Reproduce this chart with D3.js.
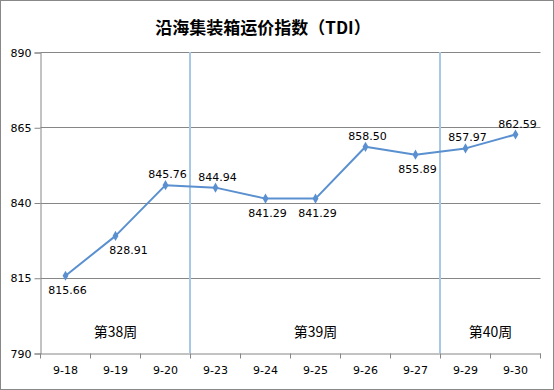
<!DOCTYPE html>
<html>
<head>
<meta charset="utf-8">
<script src="https://cdn.jsdelivr.net/npm/d3@7"></script>
<style>
  body { margin: 0; background: #fff; }
  text { font-family: "DejaVu Sans", sans-serif; }
</style>
</head>
<body>
<div id="chart"></div>
<script>
var width = 554,
    height = 390,
    margin = {top: 52, right: 14, bottom: 37, left: 40};

// data
var dates = ["9-18", "9-19", "9-20", "9-23", "9-24", "9-25", "9-26", "9-27", "9-29", "9-30"];
var tdi = [815.66, 828.91, 845.76, 844.94, 841.29, 841.29, 858.50, 855.89, 857.97, 862.59];
var yTicks = [790, 815, 840, 865, 890];
var weeks = ["第38周", "第39周", "第40周"];
var weekStart = ["9-18", "9-23", "9-29"];
var weekEnd = ["9-20", "9-27", "9-30"];
// label placement for each point: "up", "down", "downright"
var labelSide = ["down", "downright", "up", "up", "down", "down", "up", "down", "up", "up"];

var svg = d3.select("#chart").append("svg")
    .attr("width", width)
    .attr("height", height);

svg.append("rect")
    .attr("x", 0.5).attr("y", 0.5)
    .attr("width", width - 1).attr("height", height - 1)
    .attr("fill", "#fff")
    .attr("stroke", "#888");

svg.append("text")
    .attr("x", 263)
    .attr("y", 34)
    .attr("text-anchor", "middle")
    .style("font-family", "'Noto Sans CJK SC', sans-serif")
    .style("font-size", "17px")
    .style("font-weight", "bold")
    .text("沿海集装箱运价指数（TDI）");

var x = d3.scaleBand()
    .domain(dates)
    .range([margin.left + 0.5, width - margin.right + 0.5]);

var y = d3.scaleLinear()
    .domain([790, 890])
    .range([height - margin.bottom, margin.top]);

var g = svg.append("g");

// gridlines
g.selectAll(".grid")
    .data(yTicks.slice(1))
  .enter().append("line")
    .attr("x1", x.range()[0])
    .attr("x2", x.range()[1])
    .attr("y1", function(d) { return Math.round(y(d)) + 0.5; })
    .attr("y2", function(d) { return Math.round(y(d)) + 0.5; })
    .attr("stroke", "#868686");

// y axis
var yAxis = g.append("g")
    .attr("transform", "translate(" + x.range()[0] + ",0.5)")
    .call(d3.axisLeft(y).tickValues(yTicks).tickSize(6).tickPadding(3));

// x axis
var xAxis = g.append("g")
    .attr("transform", "translate(0," + (y(790) + 0.5) + ")")
    .call(d3.axisBottom(x).tickSize(0).tickPadding(13));

xAxis.selectAll(".tick").append("line")
    .attr("x1", -x.bandwidth() / 2).attr("x2", -x.bandwidth() / 2)
    .attr("y1", 0).attr("y2", 5)
    .attr("stroke", "#868686");
xAxis.append("line")
    .attr("x1", x.range()[1]).attr("x2", x.range()[1])
    .attr("y1", 0).attr("y2", 5)
    .attr("stroke", "#868686");

[yAxis, xAxis].forEach(function(a) {
  a.select(".domain").attr("stroke", "#868686");
  a.selectAll(".tick line").attr("stroke", "#868686");
  a.selectAll("text")
      .attr("fill", "#000")
      .style("font-family", "'DejaVu Sans', sans-serif")
      .style("font-size", "11px");
});

// week separators
g.selectAll(".sep")
    .data(weekStart.slice(1))
  .enter().append("line")
    .attr("x1", function(d) { return x(d) - 0.5; })
    .attr("x2", function(d) { return x(d) - 0.5; })
    .attr("y1", y(890))
    .attr("y2", y(790))
    .attr("stroke", "#a9c8e6")
    .attr("stroke-width", 2);

// week labels
g.selectAll(".week")
    .data(weeks)
  .enter().append("text")
    .attr("x", function(d, i) { return (x(weekStart[i]) + x(weekEnd[i]) + x.bandwidth()) / 2; })
    .attr("y", y(790) - 16)
    .attr("text-anchor", "middle")
    .style("font-family", "'Noto Sans CJK SC', sans-serif")
    .style("font-size", "14px")
    .text(function(d) { return d; });

// series
var pts = dates.map(function(d, i) { return {date: d, value: tdi[i], side: labelSide[i]}; });

var line = d3.line()
    .x(function(d) { return x(d.date) + x.bandwidth() / 2; })
    .y(function(d) { return y(d.value); });

g.append("path")
    .datum(pts)
    .attr("d", line)
    .attr("fill", "none")
    .attr("stroke", "#5a90cf")
    .attr("stroke-width", 2)
    .attr("stroke-linejoin", "round");

g.selectAll(".pt")
    .data(pts)
  .enter().append("path")
    .attr("d", d3.symbol().type(d3.symbolDiamond).size(30))
    .attr("transform", function(d) { return "translate(" + (x(d.date) + x.bandwidth() / 2) + "," + y(d.value) + ")"; })
    .attr("fill", "#5a90cf");

g.selectAll(".lbl")
    .data(pts)
  .enter().append("text")
    .attr("x", function(d) { return x(d.date) + x.bandwidth() / 2 + (d.side == "downright" ? 13 : 2); })
    .attr("y", function(d) { return y(d.value) + (d.side == "up" ? -7 : 18); })
    .attr("text-anchor", "middle")
    .style("font-size", "11px")
    .text(function(d) { return d.value.toFixed(2); });
</script>
</body>
</html>
